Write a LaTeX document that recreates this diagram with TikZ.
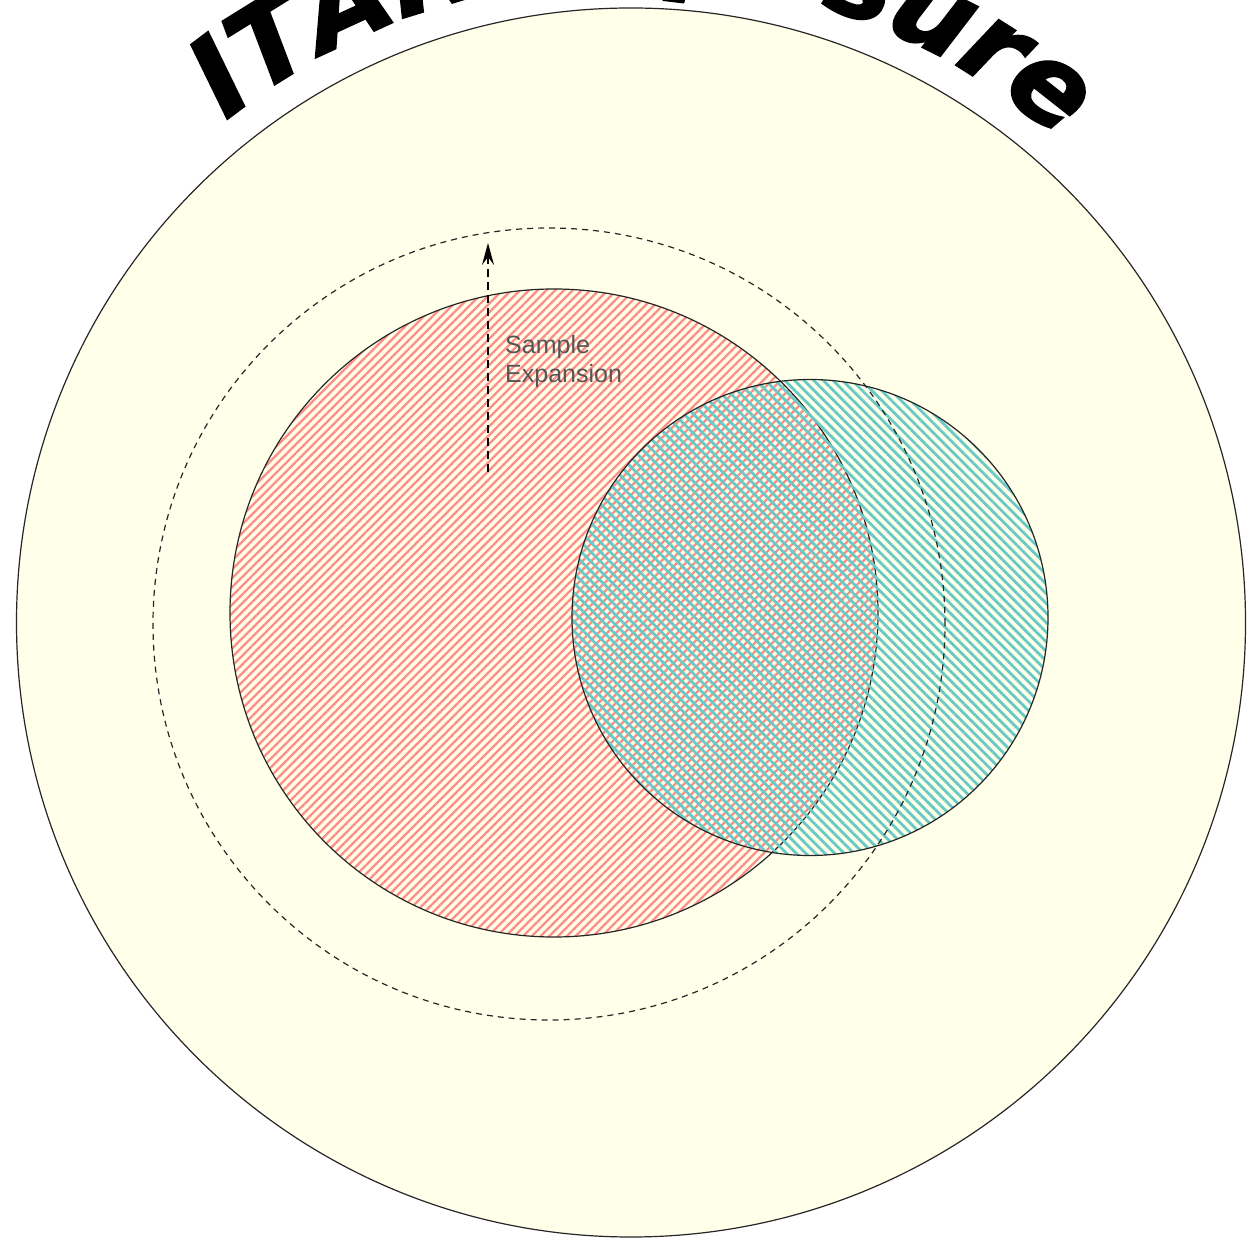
\documentclass[tikz,border=0pt]{standalone}
\usepackage{fontspec}
\setmainfont{Liberation Sans}
\newfontfamily\titlefont{DejaVu Sans}[BoldItalicFeatures={FakeBold=2}]
\usetikzlibrary{patterns.meta,decorations.text,arrows.meta}
\definecolor{cream}{RGB}{255,255,234}
\definecolor{hatchred}{RGB}{255,140,135}
\definecolor{hatchteal}{RGB}{104,202,198}
\definecolor{labelgray}{RGB}{85,85,85}
\begin{document}
\begin{tikzpicture}[x=1pt,y=1pt,
  ring/.style={circle, inner sep=0pt, draw=black!85, line width=1.2pt},
  redhatch/.style={pattern={Lines[angle=45,distance=6.2pt,line width=2.3pt]}, pattern color=hatchred},
  tealhatch/.style={pattern={Lines[angle=-45,distance=6.8pt,line width=2.8pt]}, pattern color=hatchteal},
  exparrow/.style={line width=1.8pt, dash pattern=on 8pt off 5pt, -{Stealth[length=22pt,width=12pt,inset=8pt]}},
  lbltext/.style={anchor=north west, align=left, inner sep=0pt, text=labelgray, font=\fontsize{25}{29}\selectfont}]
\useasboundingbox (0,0) rectangle (1247,1240);
\node[ring, fill=cream, minimum size=1229pt] (outer) at (631,617.5) {};
\node[ring, redhatch, minimum size=648pt] (red) at (554,627) {};
\node[ring, tealhatch, minimum size=476pt] (teal) at (810,622.5) {};
\node[ring, dash pattern=on 6pt off 5pt, minimum size=792pt] (sample) at (549,616) {};
\coordinate (arrowstart) at (488,768);
\coordinate (arrowend) at (488,997);
\draw[exparrow] (arrowstart) -- (arrowend);
\node[lbltext] (lbl) at (505,905) {Sample\\Expansion};
\coordinate (tc) at (631,617.5);
\path[decorate, decoration={text along path, text align=center, text={|\titlefont\bfseries\itshape\fontsize{111}{120}\selectfont|ITAR Exposure}}] ([shift={(150.7:645pt)}]tc) arc[start angle=150.7, end angle=26.7, radius=645pt];
\end{tikzpicture}
\end{document}
